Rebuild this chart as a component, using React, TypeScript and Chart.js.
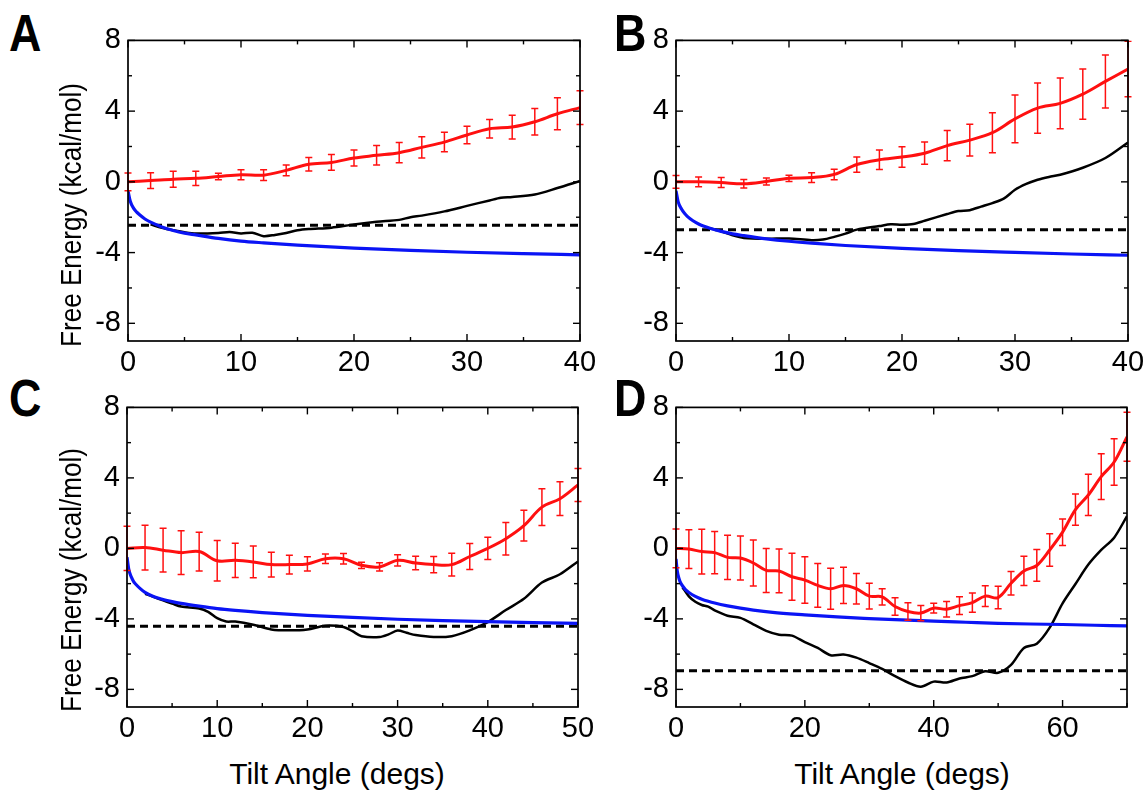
import React, { useEffect, useRef } from "react";
import { Chart, registerables } from "chart.js";
Chart.register(...registerables);

const FONT = '"Liberation Sans", Arial, Helvetica, sans-serif';

// ---------- shared ticks ----------
const yTickValues = [-8, -4, 0, 4, 8];
const xTicks40 = [0, 10, 20, 30, 40];
const xTicks50 = [0, 10, 20, 30, 40, 50];
const xTicks70 = [0, 20, 40, 60];

// ---------- Panel A ----------
const redXA = [0, 2, 4, 6, 8, 10, 12, 14, 16, 18, 20, 22, 24, 26, 28, 30, 32, 34, 36, 38, 40];
const redYA = [0, 0.07, 0.15, 0.2, 0.3, 0.4, 0.38, 0.65, 1.0, 1.1, 1.35, 1.5, 1.65, 1.95, 2.25, 2.65, 3.0, 3.1, 3.4, 3.85, 4.2];
const redErrA = [0.5, 0.45, 0.45, 0.4, 0.18, 0.28, 0.3, 0.3, 0.38, 0.45, 0.45, 0.55, 0.57, 0.6, 0.55, 0.5, 0.52, 0.67, 0.75, 0.9, 0.95];
const blackXA = [2, 3, 4, 5, 6, 8, 9, 10, 11, 12, 13, 14, 15, 16, 18, 20, 22, 24, 25, 26, 28, 30, 32, 33, 34, 36, 38, 40];
const blackYA = [-2.4, -2.6, -2.74, -2.85, -2.92, -2.89, -2.83, -2.92, -2.88, -3.07, -3.0, -2.89, -2.74, -2.67, -2.59, -2.41, -2.26, -2.15, -2.0, -1.91, -1.67, -1.36, -1.05, -0.9, -0.86, -0.72, -0.35, 0.05];
const blueXA = [0, 0.2, 0.5, 0.75, 1, 1.5, 2, 3, 4, 5, 6, 8, 10, 12, 15, 20, 25, 30, 35, 40];
const blueYA = [-0.5, -1.1, -1.5, -1.7, -1.85, -2.1, -2.28, -2.55, -2.75, -2.9, -3.0, -3.2, -3.35, -3.45, -3.58, -3.75, -3.88, -3.98, -4.06, -4.13];
const dashA = -2.46;

// ---------- Panel B ----------
const redXB = [0, 2, 4, 6, 8, 10, 12, 14, 16, 18, 20, 22, 24, 26, 28, 30, 32, 34, 36, 38, 40];
const redYB = [0, 0, -0.04, -0.11, 0.02, 0.2, 0.24, 0.42, 0.98, 1.25, 1.4, 1.62, 2.05, 2.36, 2.78, 3.56, 4.17, 4.44, 4.96, 5.68, 6.38];
const redErrB = [0.36, 0.28, 0.28, 0.24, 0.2, 0.18, 0.28, 0.3, 0.43, 0.55, 0.58, 0.63, 0.85, 0.9, 1.13, 1.35, 1.42, 1.44, 1.42, 1.5, 1.57];
const blackXB = [3, 4, 5, 6, 8, 10, 12, 13, 14, 15, 16, 18, 19, 20, 21, 22, 24, 25, 26, 27, 28, 29, 30, 31, 32, 33, 34, 36, 38, 40];
const blackYB = [-2.62, -2.8, -3.02, -3.17, -3.22, -3.2, -3.3, -3.26, -3.11, -2.93, -2.7, -2.5, -2.4, -2.42, -2.38, -2.2, -1.82, -1.65, -1.6, -1.4, -1.2, -0.95, -0.45, -0.12, 0.12, 0.28, 0.4, 0.8, 1.35, 2.23];
const blueXB = [0, 0.2, 0.5, 0.75, 1, 1.5, 2, 3, 4, 5, 6, 8, 10, 12, 15, 20, 25, 30, 35, 40];
const blueYB = [-0.5, -1.15, -1.55, -1.78, -1.95, -2.2, -2.38, -2.62, -2.8, -2.94, -3.04, -3.22, -3.36, -3.47, -3.6, -3.76, -3.89, -3.99, -4.08, -4.15];
const dashB = -2.71;

// ---------- Panel C ----------
const redXC = [0, 2, 4, 6, 8, 10, 12, 14, 16, 18, 20, 22, 24, 26, 28, 30, 32, 34, 36, 38, 40, 42, 44, 46, 48, 50];
const redYC = [0, 0.05, -0.1, -0.24, -0.18, -0.7, -0.68, -0.77, -0.92, -0.92, -0.88, -0.59, -0.59, -0.96, -1.05, -0.68, -0.83, -0.92, -0.92, -0.46, 0, 0.55, 1.29, 2.34, 2.82, 3.6];
const redErrC = [1.25, 1.27, 1.24, 1.24, 1.1, 1.15, 0.97, 0.9, 0.7, 0.53, 0.4, 0.27, 0.3, 0.18, 0.23, 0.32, 0.38, 0.46, 0.65, 0.74, 0.63, 0.92, 0.87, 1.04, 0.96, 0.94];
const blackXC = [2, 3, 4, 5, 6, 8, 9, 10, 11, 12, 14, 16, 18, 20, 22, 24, 25, 26, 28, 29, 30, 31, 32, 34, 36, 38, 40, 42, 44, 46, 48, 50];
const blackYC = [-2.58, -2.76, -2.95, -3.13, -3.3, -3.41, -3.6, -3.96, -4.15, -4.15, -4.33, -4.6, -4.65, -4.6, -4.39, -4.46, -4.7, -4.98, -5.03, -4.88, -4.66, -4.79, -4.92, -5.03, -4.98, -4.65, -4.18, -3.5, -2.86, -1.94, -1.47, -0.74];
const blueXC = [0, 0.2, 0.5, 0.75, 1, 1.5, 2, 3, 4, 5, 6, 8, 10, 12, 15, 20, 25, 30, 35, 40, 45, 50];
const blueYC = [-0.5, -1.2, -1.65, -1.9, -2.05, -2.3, -2.5, -2.75, -2.9, -3.02, -3.12, -3.28, -3.42, -3.52, -3.64, -3.8, -3.92, -4.02, -4.1, -4.16, -4.21, -4.25];
const dashC = -4.42;

// ---------- Panel D ----------
const redXD = [0, 2, 4, 6, 8, 10, 12, 14, 16, 18, 20, 22, 24, 26, 28, 30, 32, 34, 36, 38, 40, 42, 44, 46, 48, 50, 52, 54, 56, 58, 60, 62, 64, 66, 68, 70];
const redYD = [0, -0.04, -0.18, -0.24, -0.51, -0.55, -0.83, -1.25, -1.28, -1.61, -1.8, -2.1, -2.29, -2.1, -2.29, -2.71, -2.75, -3.3, -3.58, -3.67, -3.39, -3.45, -3.25, -3.08, -2.71, -2.79, -1.98, -1.28, -0.97, -0.09, 0.92, 2.2, 3.03, 4.07, 4.9, 6.33];
const redErrD = [1.1, 1.1, 1.27, 1.2, 1.25, 1.25, 1.3, 1.25, 1.24, 1.33, 1.32, 1.24, 1.17, 1.03, 0.87, 0.73, 0.46, 0.5, 0.5, 0.43, 0.28, 0.44, 0.5, 0.55, 0.59, 0.64, 0.67, 0.83, 0.9, 0.92, 0.75, 0.89, 1.17, 1.3, 1.32, 1.39];
const blackXD = [1, 2, 3, 4, 5, 6, 8, 10, 12, 14, 16, 18, 20, 22, 24, 26, 28, 30, 32, 34, 36, 38, 40, 42, 44, 46, 48, 50, 52, 54, 56, 58, 60, 62, 64, 66, 68, 70];
const blackYD = [-2.2, -2.72, -3.03, -3.21, -3.3, -3.52, -3.82, -3.94, -4.31, -4.68, -4.9, -4.95, -5.32, -5.65, -6.06, -6.02, -6.2, -6.51, -6.84, -7.25, -7.61, -7.85, -7.56, -7.61, -7.38, -7.25, -6.97, -7.06, -6.61, -5.65, -5.41, -4.5, -3.12, -2.02, -0.92, -0.09, 0.61, 1.83];
const blueXD = [0, 0.2, 0.5, 0.75, 1, 1.5, 2, 3, 4, 5, 6, 8, 10, 12, 15, 20, 25, 30, 35, 40, 45, 50, 55, 60, 65, 70];
const blueYD = [-0.6, -1.3, -1.75, -1.98, -2.12, -2.35, -2.5, -2.72, -2.88, -3.0, -3.1, -3.26, -3.39, -3.5, -3.63, -3.77, -3.89, -3.98, -4.06, -4.13, -4.19, -4.25, -4.29, -4.32, -4.36, -4.4];
const dashD = -6.94;

const pts = (xs: number[], ys: number[]) => xs.map((x, i) => ({ x, y: ys[i] }));

const framePlugin = {
  id: "frameTicks",
  afterDraw(chart: any, _args: any, opts: any) {
    const { ctx, chartArea: a, scales } = chart;
    const xs = scales.x;
    const ys = scales.y;
    ctx.save();
    ctx.strokeStyle = "#000";
    ctx.lineWidth = 1.7;
    ctx.strokeRect(a.left, a.top, a.right - a.left, a.bottom - a.top);
    ctx.lineWidth = 1.4;
    const seg = (x1: number, y1: number, x2: number, y2: number) => {
      ctx.beginPath();
      ctx.moveTo(x1, y1);
      ctx.lineTo(x2, y2);
      ctx.stroke();
    };
    for (let v = 0; v <= opts.xMax + 1e-9; v += opts.xMinor) {
      const px = xs.getPixelForValue(v);
      const r = v / opts.xMajor;
      const major = Math.abs(r - Math.round(r)) < 1e-6;
      const L = major ? 7 : 4;
      seg(px, a.bottom, px, a.bottom - L);
      seg(px, a.top, px, a.top + L);
    }
    for (let v = -8; v <= 8; v += 2) {
      const py = ys.getPixelForValue(v);
      const major = v % 4 === 0;
      const L = major ? 7 : 4;
      seg(a.left, py, a.left + L, py);
      seg(a.right, py, a.right - L, py);
    }
    ctx.restore();
  },
};

const errPlugin = {
  id: "errBars",
  afterDatasetsDraw(chart: any, _args: any, opts: any) {
    const { ctx, scales, chartArea: a } = chart;
    const xs = scales.x;
    const ys = scales.y;
    ctx.save();
    ctx.beginPath();
    ctx.rect(a.left - 6, a.top, a.right - a.left + 12, a.bottom - a.top);
    ctx.clip();
    ctx.strokeStyle = "#ff1010";
    ctx.lineWidth = 1.5;
    opts.xs.forEach((x: number, i: number) => {
      const px = xs.getPixelForValue(x);
      const top = ys.getPixelForValue(opts.ys[i] + opts.errs[i]);
      const bot = ys.getPixelForValue(opts.ys[i] - opts.errs[i]);
      ctx.beginPath();
      ctx.moveTo(px, top);
      ctx.lineTo(px, bot);
      ctx.moveTo(px - 3.5, top);
      ctx.lineTo(px + 3.5, top);
      ctx.moveTo(px - 3.5, bot);
      ctx.lineTo(px + 3.5, bot);
      ctx.stroke();
    });
    ctx.restore();
  },
};

const Y_W = 64;
const PAD_T = 16;
const PAD_R = 32;
const X_H = 46;

type PanelProps = {
  left: number; top: number; w: number; h: number;
  xMax: number; xTicks: number[]; xMajor: number; xMinor: number;
  redX: number[]; redY: number[]; redErr: number[];
  blackX: number[]; blackY: number[];
  blueX: number[]; blueY: number[];
  dash: number;
};

function Panel(p: PanelProps) {
  const ref = useRef<HTMLCanvasElement>(null);
  const cw = p.w + Y_W + PAD_R;
  const ch = p.h + PAD_T + X_H;
  useEffect(() => {
    const tickFont = { family: FONT, size: 29 };
    const chart = new Chart(ref.current as HTMLCanvasElement, {
      type: "line",
      data: {
        datasets: [
          {
            data: pts(p.redX, p.redY),
            borderColor: "#ff1010",
            borderWidth: 3,
            pointRadius: 0,
            tension: 0.35,
            fill: false,
          },
          {
            data: pts(p.blueX, p.blueY),
            borderColor: "#0a14f5",
            borderWidth: 3.2,
            pointRadius: 0,
            tension: 0.3,
            cubicInterpolationMode: "monotone",
            fill: false,
          },
          {
            data: pts(p.blackX, p.blackY),
            borderColor: "#000",
            borderWidth: 2.5,
            pointRadius: 0,
            tension: 0.3,
            fill: false,
          },
          {
            data: pts([0, p.xMax], [p.dash, p.dash]),
            borderColor: "#000",
            borderWidth: 3,
            borderDash: [8, 5],
            pointRadius: 0,
            fill: false,
          },
        ],
      } as any,
      options: {
        animation: false,
        responsive: false,
        events: [],
        layout: { padding: { top: PAD_T, right: PAD_R, left: 0, bottom: 0 } },
        scales: {
          x: {
            type: "linear",
            min: 0,
            max: p.xMax,
            afterFit: (s: any) => { s.height = X_H; },
            afterBuildTicks: (s: any) => { s.ticks = p.xTicks.map((v) => ({ value: v })); },
            grid: { display: false, drawTicks: false },
            border: { display: false },
            ticks: { font: tickFont, color: "#000", padding: 5, maxRotation: 0, autoSkip: false },
          },
          y: {
            type: "linear",
            min: -9,
            max: 8,
            afterFit: (s: any) => { s.width = Y_W; },
            afterBuildTicks: (s: any) => { s.ticks = yTickValues.map((v) => ({ value: v })); },
            grid: { display: false, drawTicks: false },
            border: { display: false },
            ticks: { font: tickFont, color: "#000", padding: 7, autoSkip: false },
          },
        },
        plugins: {
          legend: { display: false },
          tooltip: { enabled: false },
          frameTicks: { xMax: p.xMax, xMajor: p.xMajor, xMinor: p.xMinor },
          errBars: { xs: p.redX, ys: p.redY, errs: p.redErr },
        } as any,
      },
      plugins: [framePlugin, errPlugin],
    });
    return () => chart.destroy();
  }, []);
  return (
    <canvas
      ref={ref}
      width={cw}
      height={ch}
      style={{ position: "absolute", left: p.left - Y_W, top: p.top - PAD_T, width: cw, height: ch }}
    />
  );
}

const letterStyle: React.CSSProperties = {
  position: "absolute",
  fontFamily: FONT,
  fontWeight: "bold",
  fontSize: 51,
  lineHeight: "51px",
  color: "#000",
  transform: "scaleX(0.88)",
  transformOrigin: "left top",
};

const yTitleStyle = (cx: number, cy: number): React.CSSProperties => ({
  position: "absolute",
  left: cx,
  top: cy,
  transform: "translate(-50%, -50%) rotate(-90deg) scaleX(0.9)",
  fontFamily: FONT,
  fontSize: 29,
  whiteSpace: "nowrap",
  color: "#000",
});

const xTitleStyle = (cx: number, cy: number): React.CSSProperties => ({
  position: "absolute",
  left: cx,
  top: cy,
  transform: "translate(-50%, -50%)",
  fontFamily: FONT,
  fontSize: 30,
  whiteSpace: "nowrap",
  color: "#000",
});

export default function App() {
  return (
    <div style={{ position: "absolute", left: 0, top: 0, width: 1148, height: 792, background: "#fff", overflow: "hidden" }}>
      <Panel left={128} top={32} w={452} h={309} xMax={40} xTicks={xTicks40} xMajor={10} xMinor={5}
        redX={redXA} redY={redYA} redErr={redErrA} blackX={blackXA} blackY={blackYA} blueX={blueXA} blueY={blueYA} dash={dashA} />
      <Panel left={676} top={32} w={452} h={309} xMax={40} xTicks={xTicks40} xMajor={10} xMinor={5}
        redX={redXB} redY={redYB} redErr={redErrB} blackX={blackXB} blackY={blackYB} blueX={blueXB} blueY={blueYB} dash={dashB} />
      <Panel left={127} top={399} w={451} h={308} xMax={50} xTicks={xTicks50} xMajor={10} xMinor={5}
        redX={redXC} redY={redYC} redErr={redErrC} blackX={blackXC} blackY={blackYC} blueX={blueXC} blueY={blueYC} dash={dashC} />
      <Panel left={676} top={399} w={451} h={308} xMax={70} xTicks={xTicks70} xMajor={20} xMinor={10}
        redX={redXD} redY={redYD} redErr={redErrD} blackX={blackXD} blackY={blackYD} blueX={blueXD} blueY={blueYD} dash={dashD} />
      <div style={{ ...letterStyle, left: 9, top: 8 }}>A</div>
      <div style={{ ...letterStyle, left: 614, top: 8 }}>B</div>
      <div style={{ ...letterStyle, left: 9, top: 373 }}>C</div>
      <div style={{ ...letterStyle, left: 614, top: 373 }}>D</div>
      <div style={yTitleStyle(71, 215)}>Free Energy (kcal/mol)</div>
      <div style={yTitleStyle(71, 580)}>Free Energy (kcal/mol)</div>
      <div style={xTitleStyle(337, 774)}>Tilt Angle (degs)</div>
      <div style={xTitleStyle(902, 774)}>Tilt Angle (degs)</div>
    </div>
  );
}
